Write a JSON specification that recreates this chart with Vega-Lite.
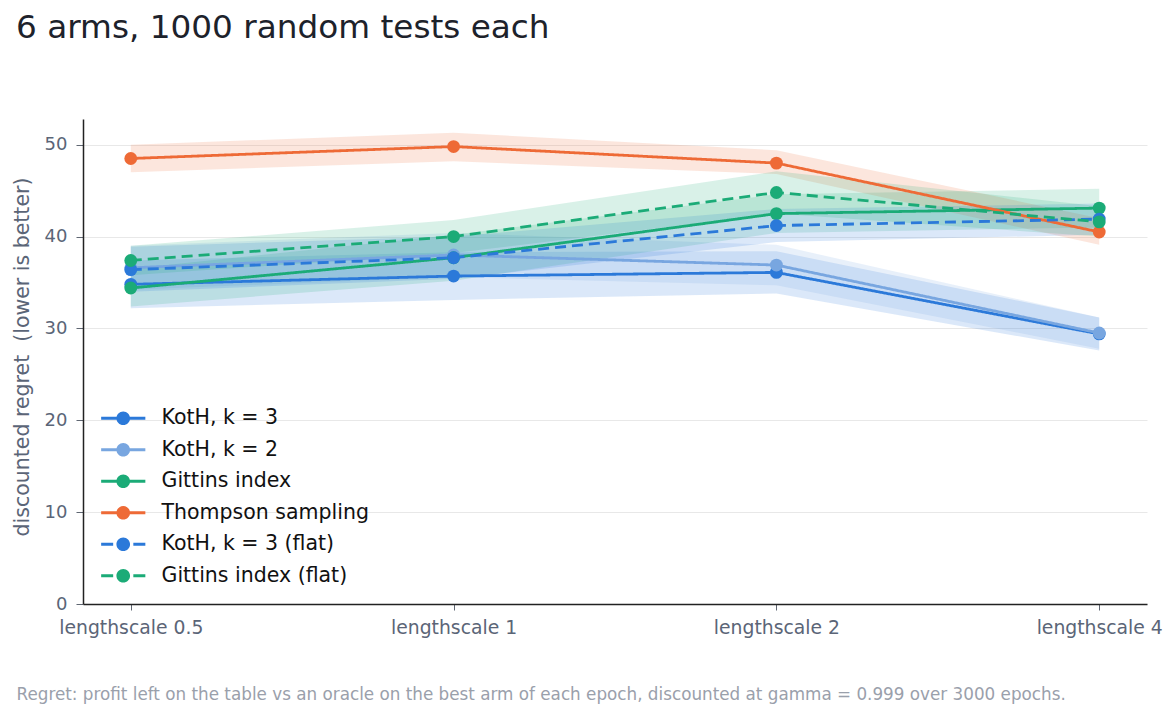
{
  "$schema": "https://vega.github.io/schema/vega-lite/v6.json",
  "width": 1064,
  "height": 485,
  "autosize": {"type": "none"},
  "padding": {"left": 83, "top": 119, "right": 29, "bottom": 118},
  "background": "white",
  "title": {
    "text": "6 arms, 1000 random tests each",
    "anchor": "start",
    "frame": "group",
    "dx": -67,
    "offset": 48,
    "baseline": "alphabetic",
    "font": "DejaVu Sans",
    "fontSize": 32.7,
    "fontWeight": "normal",
    "color": "#1d222b"
  },
  "data": {
    "values": [
      {"method": "KotH, k = 3", "ls": "lengthscale 0.5", "mean": 34.8, "lo": 32.2, "hi": 37.4},
      {"method": "KotH, k = 3", "ls": "lengthscale 1", "mean": 35.7, "lo": 33.1, "hi": 38.3},
      {"method": "KotH, k = 3", "ls": "lengthscale 2", "mean": 36.1, "lo": 33.8, "hi": 38.4},
      {"method": "KotH, k = 3", "ls": "lengthscale 4", "mean": 29.4, "lo": 27.6, "hi": 31.2},
      {"method": "KotH, k = 2", "ls": "lengthscale 0.5", "mean": 36.6, "lo": 34.2, "hi": 39.0},
      {"method": "KotH, k = 2", "ls": "lengthscale 1", "mean": 38.0, "lo": 35.6, "hi": 40.4},
      {"method": "KotH, k = 2", "ls": "lengthscale 2", "mean": 36.9, "lo": 34.7, "hi": 39.1},
      {"method": "KotH, k = 2", "ls": "lengthscale 4", "mean": 29.5, "lo": 27.8, "hi": 31.2},
      {"method": "Gittins index", "ls": "lengthscale 0.5", "mean": 34.4, "lo": 32.4, "hi": 36.5},
      {"method": "Gittins index", "ls": "lengthscale 1", "mean": 37.7, "lo": 35.2, "hi": 40.2},
      {"method": "Gittins index", "ls": "lengthscale 2", "mean": 42.5, "lo": 40.4, "hi": 44.6},
      {"method": "Gittins index", "ls": "lengthscale 4", "mean": 43.1, "lo": 41.0, "hi": 45.2},
      {"method": "Thompson sampling", "ls": "lengthscale 0.5", "mean": 48.5, "lo": 47.0, "hi": 50.0},
      {"method": "Thompson sampling", "ls": "lengthscale 1", "mean": 49.8, "lo": 48.2, "hi": 51.3},
      {"method": "Thompson sampling", "ls": "lengthscale 2", "mean": 48.0, "lo": 46.8, "hi": 49.4},
      {"method": "Thompson sampling", "ls": "lengthscale 4", "mean": 40.5, "lo": 39.1, "hi": 42.0},
      {"method": "KotH, k = 3 (flat)", "ls": "lengthscale 0.5", "mean": 36.4, "lo": 34.0, "hi": 38.9},
      {"method": "KotH, k = 3 (flat)", "ls": "lengthscale 1", "mean": 37.7, "lo": 35.4, "hi": 40.0},
      {"method": "KotH, k = 3 (flat)", "ls": "lengthscale 2", "mean": 41.2, "lo": 39.4, "hi": 43.0},
      {"method": "KotH, k = 3 (flat)", "ls": "lengthscale 4", "mean": 41.9, "lo": 40.2, "hi": 43.6},
      {"method": "Gittins index (flat)", "ls": "lengthscale 0.5", "mean": 37.4, "lo": 35.8, "hi": 39.0},
      {"method": "Gittins index (flat)", "ls": "lengthscale 1", "mean": 40.0, "lo": 38.2, "hi": 41.8},
      {"method": "Gittins index (flat)", "ls": "lengthscale 2", "mean": 44.8, "lo": 42.5, "hi": 47.1},
      {"method": "Gittins index (flat)", "ls": "lengthscale 4", "mean": 41.6, "lo": 40.0, "hi": 43.3}
    ]
  },
  "encoding": {
    "x": {
      "field": "ls",
      "type": "ordinal",
      "sort": ["lengthscale 0.5", "lengthscale 1", "lengthscale 2", "lengthscale 4"],
      "scale": {"type": "point", "padding": 0.148},
      "axis": {
        "title": "Regret: profit left on the table vs an oracle on the best arm of each epoch, discounted at gamma = 0.999 over 3000 epochs.",
        "titleX": -67,
        "titleY": 95,
        "titleAlign": "left",
        "titleAnchor": "start",
        "titleBaseline": "alphabetic",
        "titleFontSize": 16.8,
        "titleFontWeight": "normal",
        "titleColor": "#9aa0ab",
        "titleLimit": 1150,
        "labelAngle": 0,
        "labelFontSize": 18.8,
        "labelColor": "#5b6577",
        "labelPadding": 8,
        "tickSize": 6,
        "tickColor": "#5f6672",
        "domainColor": "#222222",
        "domainWidth": 1.5,
        "grid": false
      }
    },
    "color": {
      "field": "method",
      "type": "nominal",
      "scale": {
        "domain": ["KotH, k = 3", "KotH, k = 2", "Gittins index", "Thompson sampling", "KotH, k = 3 (flat)", "Gittins index (flat)"],
        "range": ["#2b79d9", "#78a6e0", "#1bab77", "#ee6a36", "#2b79d9", "#1bab77"]
      },
      "legend": {
        "orient": "none",
        "legendX": 30,
        "legendY": 289,
        "title": null,
        "symbolType": "M-3.4,-0.22H3.4V0.22H-3.4ZM1.05,0A1.05,1.05,0,1,1,-1.05,0A1.05,1.05,0,1,1,1.05,0Z",
        "symbolSize": 169,
        "symbolStrokeWidth": 0,
        "labelFontSize": 20.5,
        "labelColor": "#111111",
        "labelOffset": 28,
        "labelLimit": 400,
        "rowPadding": 10.5,
        "encode": {
          "symbols": {
            "update": {
              "shape": {"signal": "indexof(['KotH, k = 3 (flat)', 'Gittins index (flat)'], datum.value) >= 0 ? 'M-3.4,-0.22H-1.55V0.22H-3.4ZM1.55,-0.22H3.4V0.22H1.55ZM1.05,0A1.05,1.05,0,1,1,-1.05,0A1.05,1.05,0,1,1,1.05,0Z' : 'M-3.4,-0.22H3.4V0.22H-3.4ZM1.05,0A1.05,1.05,0,1,1,-1.05,0A1.05,1.05,0,1,1,1.05,0Z'"},
              "fill": {"scale": "color", "field": "value"},
              "stroke": {"value": "transparent"},
              "strokeWidth": {"value": 0},
              "strokeDash": {"value": [1, 0]},
              "opacity": {"value": 1},
              "fillOpacity": {"value": 1}
            }
          }
        }
      }
    }
  },
  "layer": [
    {
      "mark": {"type": "area", "fillOpacity": 0.17, "interpolate": "linear"},
      "encoding": {
        "y": {"field": "lo", "type": "quantitative"},
        "y2": {"field": "hi"}
      }
    },
    {
      "mark": {"type": "line", "strokeWidth": 2.8},
      "encoding": {
        "y": {"field": "mean", "type": "quantitative"},
        "strokeDash": {
          "field": "method",
          "type": "nominal",
          "scale": {
            "domain": ["KotH, k = 3", "KotH, k = 2", "Gittins index", "Thompson sampling", "KotH, k = 3 (flat)", "Gittins index (flat)"],
            "range": [[1, 0], [1, 0], [1, 0], [1, 0], [11, 6], [11, 6]]
          },
          "legend": null
        }
      }
    },
    {
      "mark": {"type": "point", "filled": true, "size": 165, "opacity": 1},
      "encoding": {
        "y": {
          "field": "mean",
          "type": "quantitative",
          "scale": {"domain": [0, 52.8], "nice": false, "zero": true},
          "axis": {
            "title": "discounted regret \u00a0(lower is better)",
            "titleFontSize": 20.5,
            "titleFontWeight": "normal",
            "titleColor": "#5b6577",
            "titlePadding": 12,
            "titleY": 237.5,
            "values": [0, 10, 20, 30, 40, 50],
            "labelFontSize": 18,
            "labelColor": "#5b6577",
            "labelPadding": 9,
            "tickSize": 7,
            "tickColor": "#5f6672",
            "domainColor": "#222222",
            "domainWidth": 1.5,
            "gridColor": "#e8e8e8",
            "gridWidth": 1
          }
        }
      }
    }
  ],
  "config": {
    "font": "DejaVu Sans",
    "view": {"stroke": null}
  }
}
